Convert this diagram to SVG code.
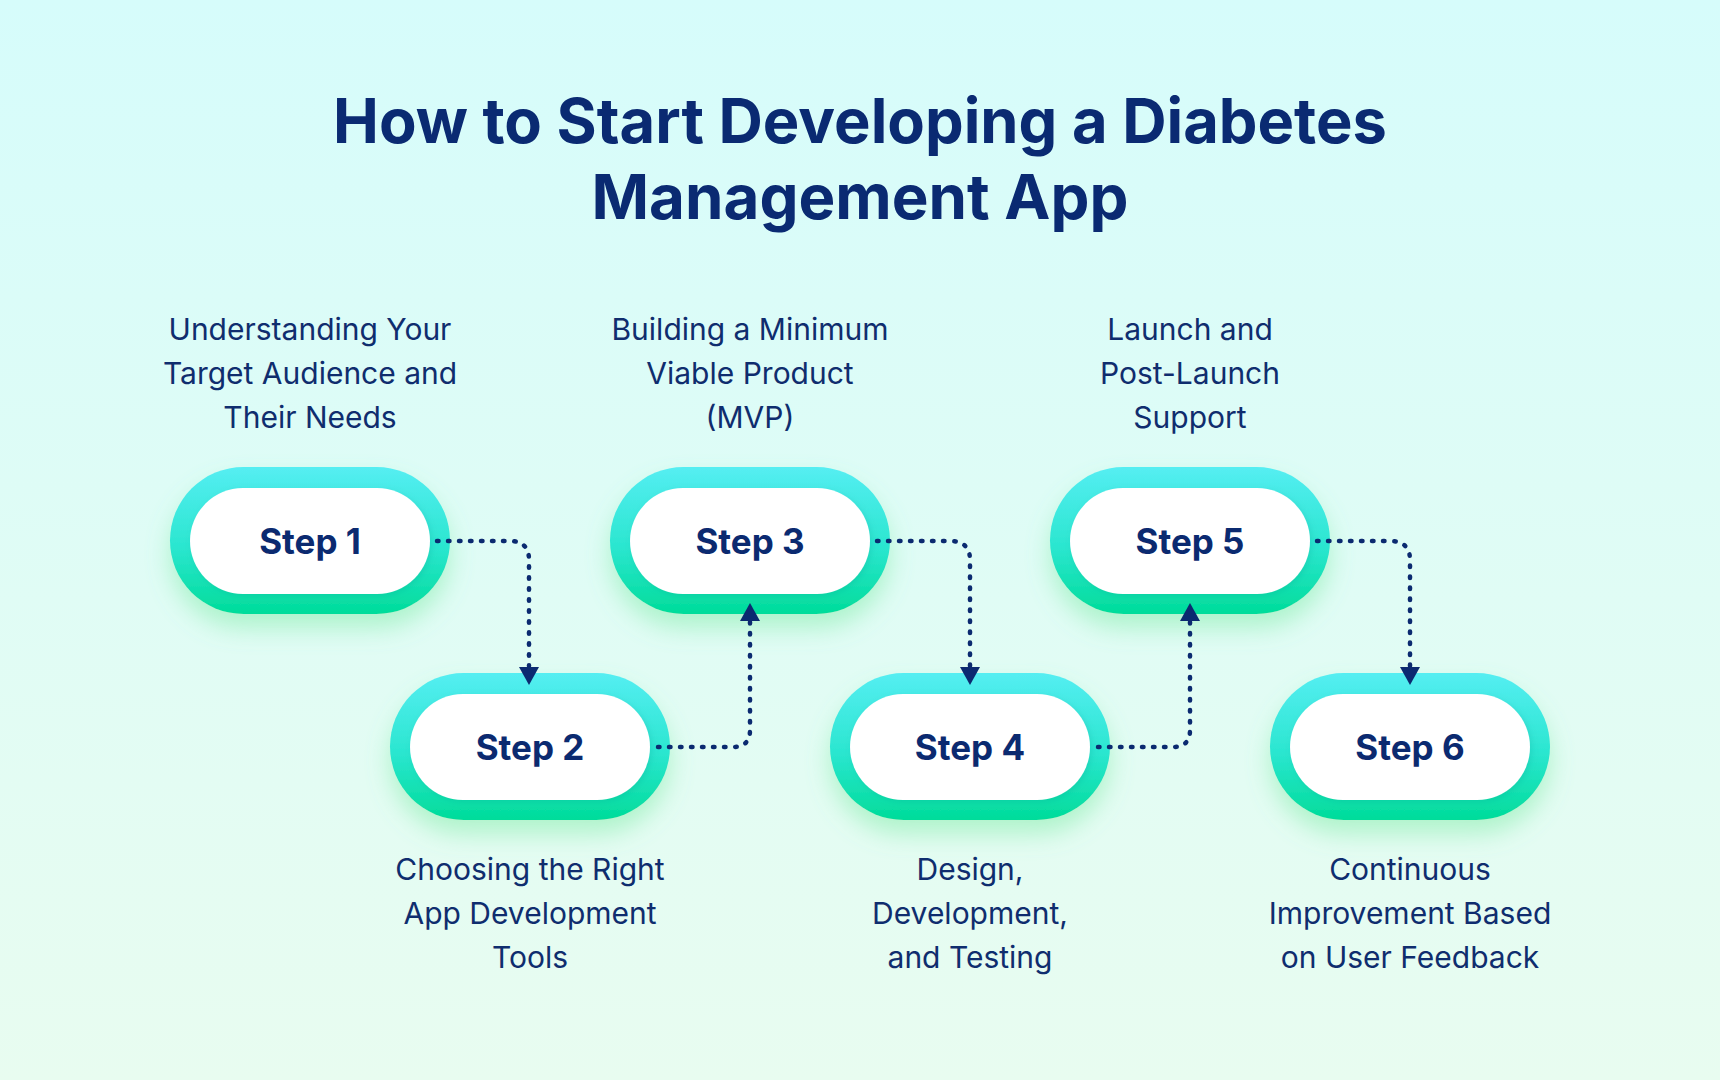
<svg xmlns="http://www.w3.org/2000/svg" width="1720" height="1080" viewBox="0 0 1720 1080">
<defs>
<linearGradient id="bg" x1="0" y1="0" x2="0" y2="1">
<stop offset="0" stop-color="#D6FCFB"/>
<stop offset="1" stop-color="#E8FCF0"/>
</linearGradient>
<linearGradient id="ring" x1="0" y1="0" x2="0" y2="1">
<stop offset="0" stop-color="#55EEF2"/>
<stop offset="0.55" stop-color="#2AE6CF"/>
<stop offset="1" stop-color="#00DC9A"/>
</linearGradient>
<filter id="glow" x="-30%" y="-30%" width="160%" height="180%">
<feDropShadow dx="0" dy="14" stdDeviation="12" flood-color="#6EE89A" flood-opacity="0.45"/>
</filter>
<filter id="inner" x="-10%" y="-10%" width="120%" height="120%">
<feDropShadow dx="2" dy="2" stdDeviation="3" flood-color="#0A8A80" flood-opacity="0.18"/>
</filter>
<style>
.ring{fill:url(#ring);filter:url(#glow);}
.pill{fill:#FFFFFF;filter:url(#inner);}
.step{font-family:Inter,"DejaVu Sans",sans-serif;font-weight:700;font-size:35px;fill:#0B2A70;text-anchor:middle;}
.lbl{font-family:Inter,"DejaVu Sans",sans-serif;font-weight:400;font-size:30px;fill:#0F2D6E;text-anchor:middle;}
.title{font-family:Inter,"DejaVu Sans",sans-serif;font-weight:700;font-size:62px;fill:#0A2A72;text-anchor:middle;}
.conn{fill:none;stroke:#0B2A70;stroke-width:4.5;stroke-linecap:round;stroke-dasharray:1.5 9.5;}
.head{fill:#0B2A70;}
</style>
</defs>
<rect x="0" y="0" width="1720" height="1080" fill="url(#bg)"/>

<g id="title">
<text class="title" x="860" y="143" textLength="1054" lengthAdjust="spacingAndGlyphs">How to Start Developing a Diabetes</text>
<text class="title" x="860" y="219" textLength="537" lengthAdjust="spacingAndGlyphs">Management App</text>
</g>

<g id="step1">
<rect class="ring" x="170" y="467" width="280" height="147" rx="73.5"/>
<rect class="pill" x="190" y="488" width="240" height="106" rx="53"/>
<text class="step" x="310" y="554">Step 1</text>
<text class="lbl" x="310" y="340">Understanding Your</text>
<text class="lbl" x="310" y="384">Target Audience and</text>
<text class="lbl" x="310" y="428">Their Needs</text>
</g>

<g id="step2">
<rect class="ring" x="390" y="673" width="280" height="147" rx="73.5"/>
<rect class="pill" x="410" y="694" width="240" height="106" rx="53"/>
<text class="step" x="530" y="760">Step 2</text>
<text class="lbl" x="530" y="880">Choosing the Right</text>
<text class="lbl" x="530" y="924">App Development</text>
<text class="lbl" x="530" y="968">Tools</text>
</g>

<g id="step3">
<rect class="ring" x="610" y="467" width="280" height="147" rx="73.5"/>
<rect class="pill" x="630" y="488" width="240" height="106" rx="53"/>
<text class="step" x="750" y="554">Step 3</text>
<text class="lbl" x="750" y="340">Building a Minimum</text>
<text class="lbl" x="750" y="384">Viable Product</text>
<text class="lbl" x="750" y="428">(MVP)</text>
</g>

<g id="step4">
<rect class="ring" x="830" y="673" width="280" height="147" rx="73.5"/>
<rect class="pill" x="850" y="694" width="240" height="106" rx="53"/>
<text class="step" x="970" y="760">Step 4</text>
<text class="lbl" x="970" y="880">Design,</text>
<text class="lbl" x="970" y="924">Development,</text>
<text class="lbl" x="970" y="968">and Testing</text>
</g>

<g id="step5">
<rect class="ring" x="1050" y="467" width="280" height="147" rx="73.5"/>
<rect class="pill" x="1070" y="488" width="240" height="106" rx="53"/>
<text class="step" x="1190" y="554">Step 5</text>
<text class="lbl" x="1190" y="340">Launch and</text>
<text class="lbl" x="1190" y="384">Post-Launch</text>
<text class="lbl" x="1190" y="428">Support</text>
</g>

<g id="step6">
<rect class="ring" x="1270" y="673" width="280" height="147" rx="73.5"/>
<rect class="pill" x="1290" y="694" width="240" height="106" rx="53"/>
<text class="step" x="1410" y="760">Step 6</text>
<text class="lbl" x="1410" y="880">Continuous</text>
<text class="lbl" x="1410" y="924">Improvement Based</text>
<text class="lbl" x="1410" y="968">on User Feedback</text>
</g>

<g id="connectors">
<path class="conn" d="M437,541 H510 Q529,541 529,560 V666"/>
<polygon class="head" points="519,667 539,667 529,685"/>
<path class="conn" d="M658,747 H733 Q750,747 750,730 V622"/>
<polygon class="head" points="740,621 760,621 750,603"/>
<path class="conn" d="M877,541 H950 Q970,541 970,560 V666"/>
<polygon class="head" points="960,667 980,667 970,685"/>
<path class="conn" d="M1098,747 H1173 Q1190,747 1190,730 V622"/>
<polygon class="head" points="1180,621 1200,621 1190,603"/>
<path class="conn" d="M1317,541 H1390 Q1410,541 1410,560 V666"/>
<polygon class="head" points="1400,667 1420,667 1410,685"/>
</g>
</svg>
